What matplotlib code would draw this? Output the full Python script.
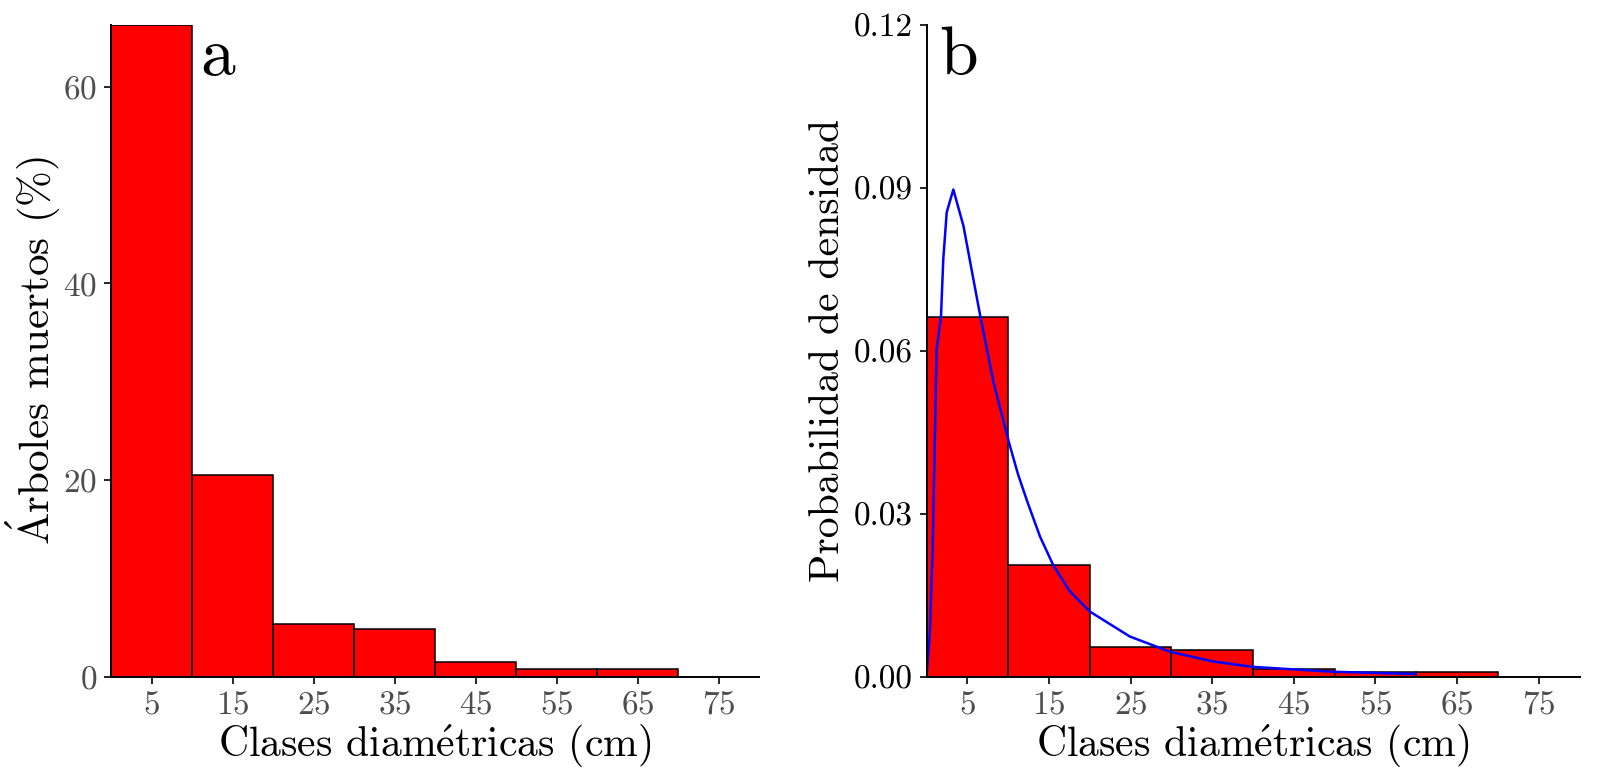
import matplotlib
matplotlib.use("Agg")
import matplotlib.pyplot as plt

plt.rcParams["font.family"] = ["cmr10", "DejaVu Serif"]
plt.rcParams["mathtext.fontset"] = "cm"
plt.rcParams["axes.formatter.use_mathtext"] = True

# diameter classes (lower edge, cm) and mortality share (%)
class_left = [0, 10, 20, 30, 40, 50, 60]
class_width = 10
dead_pct = [66.3, 20.5, 5.4, 4.9, 1.5, 0.8, 0.8]
density = [p / 100 / class_width for p in dead_pct]

# fitted density curve
curve_x = [0.0, 0.4, 0.74, 1.23, 1.77, 2.05, 2.47, 3.28, 4.52, 6.58, 8.22,
           10.12, 11.2, 12.35, 13.9, 15.5, 17.5, 20.0, 24.9, 29.8, 35.1,
           40.0, 43.3, 49.9, 59.9]
curve_y = [0.0, 0.008, 0.0232, 0.0602, 0.0664, 0.0769, 0.0855, 0.0897,
           0.0830, 0.0664, 0.0541, 0.0430, 0.0373, 0.0322, 0.0258, 0.0206,
           0.0158, 0.0120, 0.0074, 0.0046, 0.0028, 0.0018, 0.0015, 0.0009,
           0.0005]

xticks = [5, 15, 25, 35, 45, 55, 65, 75]
xlabel = r"Clases diam$\mathrm{\acute{e}}$tricas (cm)"

fig = plt.figure(figsize=(16, 7.73), dpi=100)
ax_a = fig.add_axes([0.0694, 0.1246, 0.405, 0.8431])
ax_b = fig.add_axes([0.5791, 0.1246, 0.4081, 0.8431])

for ax in (ax_a, ax_b):
    for side in ("top", "right"):
        ax.spines[side].set_visible(False)
    for side in ("left", "bottom"):
        ax.spines[side].set_linewidth(1.4)
    ax.set_xlim(0, 80)
    ax.set_xticks(xticks)
    ax.tick_params(axis="both", length=5, width=1.2, labelsize=24, pad=5)
    ax.tick_params(axis="x", labelcolor="#4D4D4D")
    ax.set_xlabel(xlabel, fontsize=30, labelpad=2)

ax_a.bar(class_left, dead_pct, width=class_width, align="edge",
         color="#FF0000", edgecolor="black", linewidth=1.1)
ax_a.set_ylim(0, max(dead_pct))
ax_a.set_yticks([0, 20, 40, 60])
ax_a.tick_params(axis="y", labelcolor="#4D4D4D")
ax_a.set_ylabel(r"$\mathrm{\acute{A}}$rboles muertos (%)", fontsize=31,
                labelpad=0)
ax_a.text(11.0, 61.2, "a", fontsize=50, va="baseline")

ax_b.bar(class_left, density, width=class_width, align="edge",
         color="#FF0000", edgecolor="black", linewidth=1.1)
ax_b.plot(curve_x, curve_y, color="#0000FF", linewidth=1.8)
ax_b.set_ylim(0, 0.12)
ax_b.set_yticks([0, 0.03, 0.06, 0.09, 0.12])
ax_b.set_yticklabels(["0.00", "0.03", "0.06", "0.09", "0.12"])
ax_b.tick_params(axis="y", labelcolor="black")
ax_b.set_ylabel("Probabilidad de densidad", fontsize=30, labelpad=5)
ax_b.text(1.5, 0.111, "b", fontsize=50, va="baseline")

fig.savefig("out.png", dpi=100)
